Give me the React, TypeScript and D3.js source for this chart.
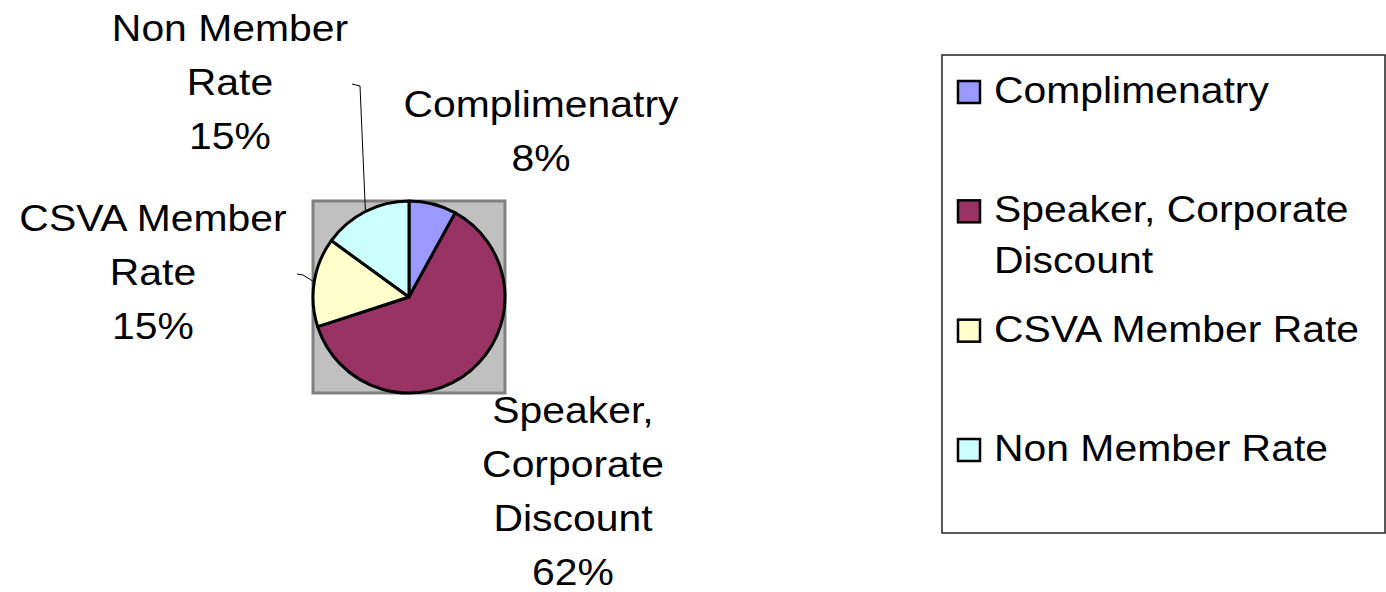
import { useEffect, useRef } from "react";
import * as d3 from "d3";

const categories = [
  "Complimenatry",
  "Speaker, Corporate Discount",
  "CSVA Member Rate",
  "Non Member Rate",
];
const shares = [8, 62, 15, 15];
// how each category name is broken on the pie labels and in the legend
const pieLabelLines = [
  ["Complimenatry"],
  ["Speaker,", "Corporate", "Discount"],
  ["CSVA Member", "Rate"],
  ["Non Member", "Rate"],
];
const legendLines = [
  ["Complimenatry"],
  ["Speaker, Corporate", "Discount"],
  ["CSVA Member Rate"],
  ["Non Member Rate"],
];
const sliceColors = ["#9999ff", "#993366", "#ffffcc", "#ccffff"];

export default function App() {
  const svgRef = useRef<SVGSVGElement>(null);

  useEffect(() => {
    if (!svgRef.current) return;
    const svg = d3.select(svgRef.current);
    svg.selectAll("*").remove();

    const width = 1386;
    const height = 592;
    const cx = 409;
    const cy = 297;
    const radius = 96;
    const fontSize = 36.5;
    const stretch = 1.12; // the original text is drawn a bit wider than Arial
    const font = "'Liberation Sans', Arial, sans-serif";

    svg.attr("width", width).attr("height", height);
    svg.append("rect").attr("width", width).attr("height", height).attr("fill", "#fff");

    // plot area
    svg
      .append("rect")
      .attr("x", cx - radius)
      .attr("y", cy - radius)
      .attr("width", radius * 2)
      .attr("height", radius * 2)
      .attr("fill", "#c0c0c0")
      .attr("stroke", "#808080")
      .attr("stroke-width", 3);

    const total = d3.sum(shares);
    const pie = d3.pie<number>().sort(null).value((d) => d);
    const arcs = pie(shares);
    const arc = d3.arc<d3.PieArcDatum<number>>().innerRadius(0).outerRadius(radius);

    const g = svg.append("g").attr("transform", `translate(${cx},${cy})`);
    g.selectAll("path.slice")
      .data(arcs)
      .enter()
      .append("path")
      .attr("class", "slice")
      .attr("d", arc)
      .attr("fill", (_, i) => sliceColors[i])
      .attr("stroke", "#000")
      .attr("stroke-width", 3)
      .attr("stroke-linejoin", "round");

    const pct = d3.format(".0%");

    // label placement: centre x and first baseline, plus leader start (if any)
    const labelLayout = [
      { x: 541, y: 117, lead: null as null | [number, number][] },
      { x: 573, y: 423, lead: null as null | [number, number][] },
      { x: 153, y: 231, lead: [[297, 274], [303, 275]] as [number, number][] },
      { x: 230, y: 41, lead: [[352, 84], [360, 86]] as [number, number][] },
    ];
    const lineStep = 54;

    arcs.forEach((a, i) => {
      const lay = labelLayout[i];
      const lines = [...pieLabelLines[i], pct(a.value / total)];
      lines.forEach((t, k) => {
        svg
          .append("text")
          .attr("transform", `translate(${lay.x},${lay.y + k * lineStep}) scale(${stretch},1)`)
          .attr("text-anchor", "middle")
          .attr("font-family", font)
          .attr("font-size", fontSize)
          .attr("fill", "#000")
          .text(t);
      });
      if (lay.lead) {
        const mid = (a.startAngle + a.endAngle) / 2;
        const end: [number, number] = [cx + radius * Math.sin(mid), cy - radius * Math.cos(mid)];
        svg
          .append("path")
          .attr("d", d3.line()([...lay.lead, end]))
          .attr("fill", "none")
          .attr("stroke", "#000")
          .attr("stroke-width", 1);
      }
    });

    // legend
    const legendX = 942;
    const legendY = 55;
    svg
      .append("rect")
      .attr("x", legendX)
      .attr("y", legendY)
      .attr("width", 443)
      .attr("height", 478)
      .attr("fill", "#fff")
      .attr("stroke", "#222")
      .attr("stroke-width", 1.5);

    const itemY = d3
      .scalePoint<string>()
      .domain(categories)
      .range([92, 450]);

    categories.forEach((c, i) => {
      const y = itemY(c) as number;
      svg
        .append("rect")
        .attr("x", 958)
        .attr("y", y - 11)
        .attr("width", 22)
        .attr("height", 22)
        .attr("fill", sliceColors[i])
        .attr("stroke", "#000")
        .attr("stroke-width", 2.5);
      legendLines[i].forEach((t, k) => {
        svg
          .append("text")
          .attr("transform", `translate(994,${y + 11 + k * 51}) scale(${stretch},1)`)
          .attr("font-family", font)
          .attr("font-size", fontSize)
          .attr("fill", "#000")
          .text(t);
      });
    });
  }, []);

  return (
    <svg
      ref={svgRef}
      width={1386}
      height={592}
      style={{ position: "absolute", left: 0, top: 0 }}
    />
  );
}
